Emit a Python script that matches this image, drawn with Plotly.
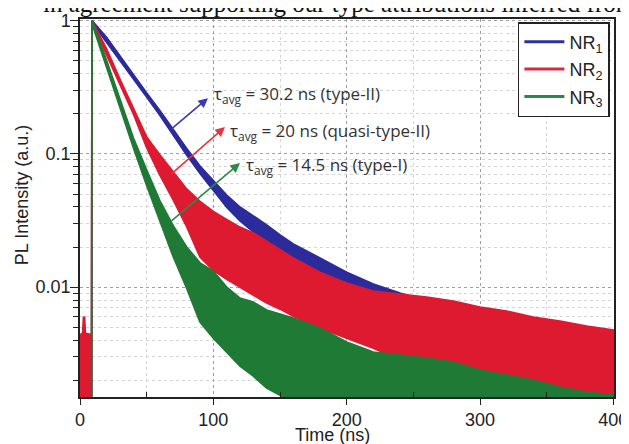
import math
import plotly.graph_objects as go

# ---------------- data ----------------
# Each decay trace is noisy; it is described by the upper and lower envelope of its noise band.
blue_t  = [8.7, 9, 20, 30, 40, 50, 60, 70, 80, 90, 100, 110, 120, 130, 140, 150, 160, 180, 200, 220, 240, 260, 280, 300, 340, 400]
blue_hi = [0.0012, 1.0, 0.746, 0.542, 0.390, 0.286, 0.211, 0.151, 0.1096, 0.0810, 0.0625, 0.0491, 0.0399, 0.0342, 0.0293,
           0.0246, 0.0211, 0.01655, 0.01294, 0.01055, 0.00902, 0.00786, 0.00709, 0.00617, 0.00493, 0.00374]
blue_lo = [0.0012, 0.97, 0.690, 0.506, 0.364, 0.267, 0.194, 0.138, 0.0980, 0.0712, 0.0530, 0.0399, 0.0314, 0.0259, 0.0215,
           0.0180, 0.0155, 0.01167, 0.00918, 0.00747, 0.00617, 0.00519, 0.00444, 0.00381, 0.00299, 0.00215]

red_t  = [0, 2, 2.6, 3.4, 4, 8.7, 9, 20, 30, 40, 50, 60, 70, 80, 90, 100, 110, 120, 130, 140, 150, 160, 180, 200,
          220, 240, 260, 280, 300, 320, 340, 360, 380, 400]
red_hi = [0.0044, 0.0045, 0.0059, 0.0060, 0.0045, 0.0044, 1.0, 0.610, 0.362, 0.2190, 0.134, 0.0980, 0.0735, 0.0545,
          0.0440, 0.0370, 0.0322, 0.02820, 0.0255, 0.0220, 0.0190, 0.01655, 0.01294, 0.01073, 0.00934, 0.00887,
          0.00842, 0.00786, 0.00709, 0.00661, 0.00596, 0.00556, 0.0051, 0.00476]
red_lo = [0.0012, 0.0012, 0.0012, 0.0012, 0.0012, 0.0012, 0.96, 0.553, 0.330, 0.2000, 0.1115, 0.0690, 0.0450, 0.0285,
          0.01683, 0.0134, 0.01147, 0.01001, 0.00871, 0.00760, 0.00685, 0.00607, 0.00493, 0.00415, 0.00349, 0.00284,
          0.00227, 0.00181, 0.0012, 0.0012, 0.0012, 0.0012, 0.0012, 0.0012]

green_t  = [8.7, 9, 20, 30, 40, 50, 60, 70, 80, 90, 100, 110, 120, 130, 140, 150, 160, 180, 200, 220, 240, 260, 280,
            300, 320, 340, 360, 380, 400]
green_hi = [0.0012, 1.0, 0.500, 0.252, 0.132, 0.0755, 0.0442, 0.02876, 0.0200, 0.0152, 0.0132, 0.0100, 0.00827,
            0.00773, 0.00673, 0.00628, 0.00586, 0.00493, 0.00387, 0.00326, 0.00309, 0.00293, 0.00274, 0.00239,
            0.00219, 0.00201, 0.00178, 0.00163, 0.00155]
green_lo = [0.0012, 0.95, 0.448, 0.224, 0.112, 0.0580, 0.0308, 0.01683, 0.00984, 0.00547, 0.00415, 0.00326, 0.00256,
            0.00215, 0.00175, 0.00155, 0.0012, 0.0012, 0.0012, 0.0012, 0.0012, 0.0012, 0.0012, 0.0012, 0.0012,
            0.0012, 0.0012, 0.0012, 0.0012]

series_names = ["NR<sub>1</sub>", "NR<sub>2</sub>", "NR<sub>3</sub>"]
tau_labels = ["τ<sub>avg</sub> = 30.2 ns (type-II)",
              "τ<sub>avg</sub> = 20 ns (quasi-type-II)",
              "τ<sub>avg</sub> = 14.5 ns (type-I)"]
x_ticks = [0, 100, 200, 300, 400]
y_ticks = [0.01, 0.1, 1]
y_ticktext = ["0.01", "0.1", "1"]

# ---------------- styling ----------------
fill_colors = ["#2b2b9c", "#dd1a30", "#1f7a35"]
legend_colors = ["#2f2fa0", "#d62a45", "#2e8549"]
arrow_colors = ["#3b3bb0", "#e8343f", "#2b8a47"]
FONT = "Arial, 'Liberation Sans', sans-serif"

fig = go.Figure()

for t, hi, lo, c in [(blue_t, blue_hi, blue_lo, fill_colors[0]),
                     (red_t, red_hi, red_lo, fill_colors[1]),
                     (green_t, green_hi, green_lo, fill_colors[2])]:
    fig.add_trace(go.Scatter(
        x=list(t) + list(t)[::-1],
        y=list(hi) + list(lo)[::-1],
        mode="lines", fill="toself", fillcolor=c,
        line=dict(color=c, width=1.8),
        showlegend=False, hoverinfo="skip"))

for name, c in zip(series_names, legend_colors):
    fig.add_trace(go.Scatter(x=[None], y=[None], mode="lines", name=name,
                             line=dict(color=c, width=3), legendgroup=name))

y_minor = [m * 10 ** e for e in (-3, -2, -1) for m in range(2, 10)]

fig.update_xaxes(
    range=[0, 400.5], tickvals=x_ticks, ticks="outside", ticklen=6, tickwidth=1.2,
    tickcolor="#222", showline=True, linecolor="#222", linewidth=1.5, mirror=True,
    showgrid=True, gridcolor="#a0a0a0", griddash="dot", gridwidth=1,
    tickfont=dict(family=FONT, size=18, color="#222"), automargin=False,
    minor=dict(tickvals=[50, 150, 250, 350], ticks="inside", ticklen=5, tickcolor="#222",
               showgrid=True, gridcolor="#d4d4d4", griddash="dot", gridwidth=1),
    zeroline=False)

fig.update_yaxes(
    type="log", range=[-2.824, 0.012], tickvals=y_ticks, ticktext=y_ticktext,
    ticks="outside", ticklen=8, tickwidth=1.2, tickcolor="#222",
    showline=True, linecolor="#222", linewidth=1.5, mirror=True,
    showgrid=True, gridcolor="#a0a0a0", griddash="dot", gridwidth=1,
    tickfont=dict(family=FONT, size=18, color="#222"), automargin=False,
    ticklabelstandoff=-4,
    minor=dict(tickvals=y_minor, ticks="outside", ticklen=5, tickcolor="#222",
               showgrid=True, gridcolor="#d4d4d4", griddash="dot", gridwidth=1),
    zeroline=False)

annotations = []
arrows = [((67.5, 0.151), (96, 0.262)),
          ((67.5, 0.0693), (108.75, 0.159)),
          ((67.5, 0.0308), (120, 0.0853))]
for (tail, head), c in zip(arrows, arrow_colors):
    annotations.append(dict(x=head[0], y=math.log10(head[1]), ax=tail[0], ay=math.log10(tail[1]),
                            xref="x", yref="y", axref="x", ayref="y", text="", showarrow=True,
                            arrowhead=2, arrowsize=1.2, arrowwidth=1.6, arrowcolor=c))
label_pos = [(99, 0.281), (111, 0.148), (123, 0.0824)]
for (lx, ly), txt in zip(label_pos, tau_labels):
    annotations.append(dict(x=lx, y=math.log10(ly), xref="x", yref="y", text=txt, showarrow=False,
                            xanchor="left", yanchor="middle",
                            font=dict(family="'Open Sans', sans-serif", size=17, color="#333")))

annotations.append(dict(x=-0.1086, y=0.534, xref="paper", yref="paper", text="PL Intensity (a.u.)",
                        textangle=-90, showarrow=False, xanchor="center", yanchor="middle",
                        font=dict(family=FONT, size=18, color="#222")))
annotations.append(dict(x=0.472, y=-0.1005, xref="paper", yref="paper", text="Time (ns)",
                        showarrow=False, xanchor="center", yanchor="middle",
                        font=dict(family=FONT, size=18, color="#222")))
annotations.append(dict(x=-0.073, y=1.042, xref="paper", yref="paper",
                        text="in agreement supporting our type attributions inferred from",
                        showarrow=False, xanchor="left", yanchor="middle",
                        font=dict(family="'Liberation Serif', 'Times New Roman', serif", size=25, color="#111")))

# the page body adds an 8 px offset, so the figure is 8 px smaller than the window
fig.update_layout(
    width=621, height=436,
    margin=dict(l=72, r=15, t=11, b=47, autoexpand=False),
    paper_bgcolor="white", plot_bgcolor="white",
    showlegend=True,
    legend=dict(x=0.82, y=0.992, xanchor="left", yanchor="top",
                bgcolor="white", bordercolor="#222", borderwidth=1.5,
                font=dict(family=FONT, size=18, color="#222"),
                tracegroupgap=1, itemwidth=40),
    annotations=annotations)

fig.write_html("out.html")
